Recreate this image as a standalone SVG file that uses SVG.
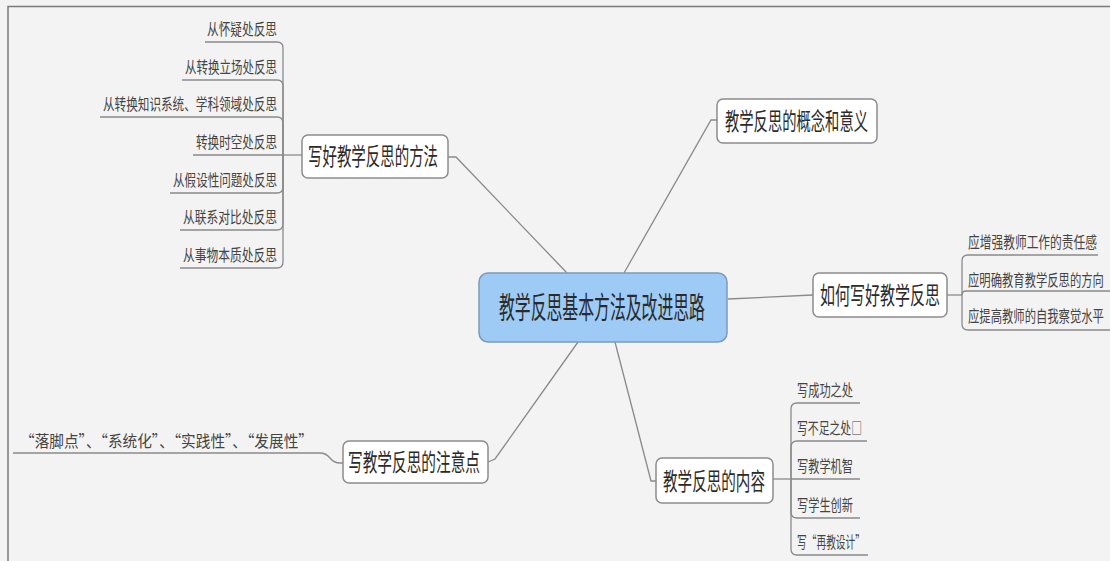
<svg xmlns="http://www.w3.org/2000/svg" width="1110" height="561" viewBox="0 0 1110 561">
<style>
text{font-family:"Noto Sans CJK SC","Noto Sans",sans-serif;fill:#333}
.node{fill:#fff;stroke:#8c8c8c;stroke-width:1.5}
.root{fill:#9dcbf6;stroke:#7d9ab6;stroke-width:1.5}
.c{fill:none;stroke:#8a8a8a;stroke-width:1.3}
.t1{font-size:30px;fill:#2a2a2a}
.t2{font-size:24px;fill:#2a2a2a}
.t3{font-size:16px;fill:#444}
</style>
<rect width="1110" height="561" fill="#f3f3f3"/>
<path d="M8 561 V6.5 H1110" fill="none" stroke="#7a7a7a" stroke-width="1.5"/>
<g id="connectors">
<path class="c" d="M567 273 L456 157 H448"/>
<path class="c" d="M624 273 L711 120 H717"/>
<path class="c" d="M728 299 L813 295"/>
<path class="c" d="M578 342 L495 459 L488 462"/>
<path class="c" d="M615 342 L651 481 H656"/>
<path class="c" d="M302 155 H283"/>
<path class="c" d="M205 42 H277 Q283 42 283 48 V155"/>
<path class="c" d="M182 80 H277 Q283 80 283 86 V155"/>
<path class="c" d="M100 117 H277 Q283 117 283 123 V155"/>
<path class="c" d="M193 155 H283"/>
<path class="c" d="M170 193 H277 Q283 193 283 187 V155"/>
<path class="c" d="M180 230 H277 Q283 230 283 224 V155"/>
<path class="c" d="M180 268 H277 Q283 268 283 262 V155"/>
<path class="c" d="M947 295 H962"/>
<path class="c" d="M962 295 V261 Q962 255 968 255 H1098"/>
<path class="c" d="M962 295 Q962 291 966 291 H1110"/>
<path class="c" d="M962 295 V324 Q962 330 968 330 H1110"/>
<path class="c" d="M773 479 H791"/>
<path class="c" d="M791 479 V409 Q791 403 797 403 H860"/>
<path class="c" d="M791 479 V447 Q791 441 797 441 H867"/>
<path class="c" d="M791 479 H860"/>
<path class="c" d="M791 479 V512 Q791 518 797 518 H860"/>
<path class="c" d="M791 479 V549 Q791 555 797 555 H868"/>
<path class="c" d="M13 453 H320 Q326 453 330 458 Q334 463 340 463 H343"/>
</g>
<g id="root">
<rect class="root" x="479" y="273" width="248" height="69" rx="9"/>
<text class="t1" transform="translate(499 318) scale(0.528 1)" textLength="390" lengthAdjust="spacingAndGlyphs">教学反思基本方法及改进思路</text>
</g>
<g id="n-method">
<rect class="node" x="302" y="135" width="146" height="43" rx="6"/>
<text class="t2" transform="translate(308 165) scale(0.602 1)" textLength="216" lengthAdjust="spacingAndGlyphs">写好教学反思的方法</text>
</g>
<g id="n-concept">
<rect class="node" x="717" y="99" width="160" height="44" rx="6"/>
<text class="t2" transform="translate(725 130) scale(0.596 1)" textLength="240" lengthAdjust="spacingAndGlyphs">教学反思的概念和意义</text>
</g>
<g id="n-how">
<rect class="node" x="813" y="273" width="134" height="44" rx="6"/>
<text class="t2" transform="translate(820 304) scale(0.625 1)" textLength="192" lengthAdjust="spacingAndGlyphs">如何写好教学反思</text>
</g>
<g id="n-attention">
<rect class="node" x="343" y="441" width="145" height="42" rx="6"/>
<text class="t2" transform="translate(348 471) scale(0.611 1)" textLength="216" lengthAdjust="spacingAndGlyphs">写教学反思的注意点</text>
</g>
<g id="n-content">
<rect class="node" x="656" y="458" width="117" height="45" rx="6"/>
<text class="t2" transform="translate(663 490) scale(0.607 1)" textLength="168" lengthAdjust="spacingAndGlyphs">教学反思的内容</text>
</g>
<g id="method-children" text-anchor="end">
<text class="t3" transform="translate(277 35) scale(0.729 1)" textLength="96" lengthAdjust="spacingAndGlyphs">从怀疑处反思</text>
<text class="t3" transform="translate(277 73) scale(0.719 1)" textLength="128" lengthAdjust="spacingAndGlyphs">从转换立场处反思</text>
<text class="t3" transform="translate(277 110) scale(0.725 1)" textLength="240" lengthAdjust="spacingAndGlyphs">从转换知识系统、学科领域处反思</text>
<text class="t3" transform="translate(277 148) scale(0.723 1)" textLength="112" lengthAdjust="spacingAndGlyphs">转换时空处反思</text>
<text class="t3" transform="translate(277 186) scale(0.722 1)" textLength="144" lengthAdjust="spacingAndGlyphs">从假设性问题处反思</text>
<text class="t3" transform="translate(277 223) scale(0.734 1)" textLength="128" lengthAdjust="spacingAndGlyphs">从联系对比处反思</text>
<text class="t3" transform="translate(277 261) scale(0.734 1)" textLength="128" lengthAdjust="spacingAndGlyphs">从事物本质处反思</text>
</g>
<g id="how-children">
<text class="t3" transform="translate(968 248) scale(0.733 1)" textLength="176" lengthAdjust="spacingAndGlyphs">应增强教师工作的责任感</text>
<text class="t3" transform="translate(968 286) scale(0.708 1)" textLength="192" lengthAdjust="spacingAndGlyphs">应明确教育教学反思的方向</text>
<text class="t3" transform="translate(968 322) scale(0.708 1)" textLength="192" lengthAdjust="spacingAndGlyphs">应提高教师的自我察觉水平</text>
</g>
<g id="content-children">
<text class="t3" transform="translate(797 396) scale(0.7 1)" textLength="80" lengthAdjust="spacingAndGlyphs">写成功之处</text>
<text class="t3" transform="translate(797 434) scale(0.677 1)" textLength="96" lengthAdjust="spacingAndGlyphs">写不足之处□</text>
<text class="t3" transform="translate(797 472) scale(0.7 1)" textLength="80" lengthAdjust="spacingAndGlyphs">写教学机智</text>
<text class="t3" transform="translate(797 511) scale(0.7 1)" textLength="80" lengthAdjust="spacingAndGlyphs">写学生创新</text>
<text class="t3" transform="translate(797 548) scale(0.607 1)" textLength="112" lengthAdjust="spacingAndGlyphs">写“再教设计”</text>
</g>
<g id="attention-children">
<text class="t3" transform="translate(20 447) scale(0.796 1)" textLength="368" lengthAdjust="spacingAndGlyphs">“落脚点”、“系统化”、“实践性”、“发展性”</text>
</g>
</svg>
